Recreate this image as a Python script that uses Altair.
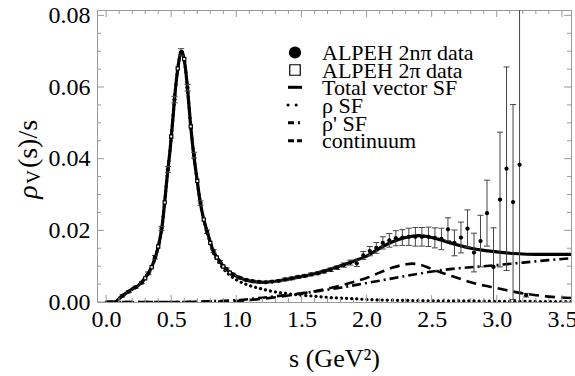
import altair as alt
import pandas as pd

FONT = "Liberation Serif"
GRAY = "#999999"
W, H = 474, 292

# ---------------- model curves ----------------
total_s = [0.0, 0.07, 0.1, 0.15, 0.2, 0.25, 0.3, 0.35, 0.38, 0.41, 0.43, 0.45, 0.47, 0.49, 0.51,
           0.53, 0.55, 0.565, 0.58, 0.595, 0.61, 0.625, 0.645, 0.67, 0.695, 0.72, 0.75, 0.78,
           0.82, 0.86, 0.9, 0.95, 1.0, 1.05, 1.1, 1.2, 1.3, 1.4, 1.5, 1.6, 1.7, 1.8, 1.9, 2.0,
           2.1, 2.2, 2.3, 2.4, 2.5, 2.6, 2.7, 2.8, 2.9, 3.0, 3.1, 3.2, 3.3, 3.4, 3.57]
total_v = [0.0, 0.0, 0.0010, 0.0024, 0.0036, 0.0047, 0.0068, 0.0098, 0.0127, 0.0170, 0.0212,
           0.0280, 0.0355, 0.0420, 0.0500, 0.0585, 0.0650, 0.0685, 0.0700, 0.0685, 0.0650,
           0.0596, 0.0510, 0.0420, 0.0350, 0.0285, 0.0230, 0.0192, 0.0145, 0.0120, 0.0100,
           0.0083, 0.0072, 0.0064, 0.0059, 0.0055, 0.0058, 0.0064, 0.0071, 0.0079, 0.0089,
           0.0101, 0.0114, 0.0128, 0.0150, 0.0168, 0.0180, 0.0185, 0.0180, 0.0170, 0.0159,
           0.0150, 0.0144, 0.0140, 0.0136, 0.0134, 0.0133, 0.0133, 0.0133]

rho_s = [0.0, 0.07, 0.1, 0.15, 0.2, 0.25, 0.3, 0.35, 0.38, 0.41, 0.43, 0.45, 0.47, 0.49, 0.51,
         0.53, 0.55, 0.565, 0.58, 0.595, 0.61, 0.625, 0.645, 0.67, 0.695, 0.72, 0.75, 0.78,
         0.82, 0.86, 0.9, 0.95, 1.0, 1.1, 1.2, 1.3, 1.4, 1.5, 1.6, 1.7, 1.8, 1.9, 2.0, 2.2,
         2.4, 2.6, 2.8, 3.0, 3.2, 3.4, 3.57]
rho_v = [0.0, 0.0, 0.0010, 0.0024, 0.0036, 0.0047, 0.0068, 0.0098, 0.0127, 0.0170, 0.0212,
         0.0280, 0.0355, 0.0420, 0.0500, 0.0585, 0.0650, 0.0685, 0.0700, 0.0685, 0.0650,
         0.0596, 0.0510, 0.0420, 0.0350, 0.0285, 0.0229, 0.0190, 0.0140, 0.0113, 0.0093,
         0.0075, 0.0062, 0.0046, 0.0036, 0.0028, 0.0023, 0.0019, 0.0016, 0.0013, 0.0011,
         0.0009, 0.0007, 0.0005, 0.0004, 0.0003, 0.0003, 0.0002, 0.0002, 0.0001, 0.0001]

rhop_s = [0.0, 0.6, 0.8, 1.0, 1.2, 1.4, 1.6, 1.8, 2.0, 2.2, 2.4, 2.6, 2.8, 3.0, 3.2, 3.4, 3.57]
rhop_v = [0.0, 0.0, 0.0002, 0.0005, 0.0012, 0.0020, 0.0029, 0.0040, 0.0053, 0.0066, 0.0079,
          0.0090, 0.0097, 0.0103, 0.0110, 0.0117, 0.0122]

cont_s = [0.0, 0.6, 0.8, 1.0, 1.2, 1.4, 1.6, 1.8, 1.9, 2.0, 2.1, 2.2, 2.3, 2.35, 2.4, 2.5, 2.6,
          2.7, 2.8, 2.9, 3.0, 3.1, 3.2, 3.3, 3.4, 3.57]
cont_v = [0.0, 0.0, 0.0001, 0.0003, 0.0009, 0.0018, 0.0030, 0.0046, 0.0056, 0.0067, 0.0082,
          0.0096, 0.0105, 0.0107, 0.0105, 0.0092, 0.0079, 0.0067, 0.0055, 0.0046, 0.0039,
          0.0031, 0.0024, 0.0019, 0.0015, 0.0011]

# ---------------- ALEPH 2nπ data ----------------
d_s = [0.125, 0.175, 0.225, 0.275, 0.325, 0.375, 0.425, 0.475, 0.525, 0.575,
       0.625, 0.675, 0.725, 0.775, 0.825, 0.875, 0.925, 0.975, 1.025, 1.075,
       1.125, 1.175, 1.225, 1.275, 1.325, 1.375, 1.425, 1.475, 1.525, 1.575,
       1.625, 1.675, 1.725, 1.775, 1.825, 1.875, 1.925, 1.975, 2.025, 2.075,
       2.125, 2.175, 2.225, 2.275, 2.325, 2.375, 2.425, 2.475, 2.525, 2.575,
       2.625, 2.675, 2.725, 2.775, 2.825, 2.875, 2.925, 2.975, 3.025, 3.075,
       3.125, 3.175, 3.225]
d_v = [0.0017, 0.0029, 0.0041, 0.0054, 0.0080, 0.0125, 0.0205, 0.0370, 0.0565, 0.0697,
       0.0598, 0.0410, 0.0276, 0.0196, 0.0142, 0.0113, 0.0092, 0.0077, 0.0068, 0.0062,
       0.0058, 0.0056, 0.0055, 0.0057, 0.0059, 0.0063, 0.0066, 0.0070, 0.0073, 0.0077,
       0.0080, 0.0085, 0.0090, 0.0096, 0.0103, 0.0110, 0.0108, 0.0130, 0.0142, 0.0151,
       0.0165, 0.0172, 0.0178, 0.0180, 0.0182, 0.0182, 0.0182, 0.0182, 0.0179, 0.0176,
       0.0203, 0.0165, 0.0180, 0.0205, 0.0138, 0.0170, 0.0248, 0.0098, 0.0286, 0.0372,
       0.0279, 0.0383, 0.0019]
d_err = [0.0003, 0.0003, 0.0003, 0.0003, 0.0004, 0.0005, 0.0006, 0.0008, 0.0009, 0.0010,
         0.0009, 0.0008, 0.0006, 0.0005, 0.0004, 0.0003, 0.0003, 0.0003, 0.0003, 0.0003,
         0.0003, 0.0003, 0.0003, 0.0003, 0.0003, 0.0004, 0.0004, 0.0004, 0.0004, 0.0004,
         0.0004, 0.0004, 0.0005, 0.0005, 0.0006, 0.0007, 0.0009, 0.0011, 0.0013, 0.0015,
         0.0017, 0.0019, 0.0021, 0.0022, 0.0024, 0.0026, 0.0026, 0.0027, 0.0028, 0.0030,
         0.0032, 0.0036, 0.0043, 0.0052, 0.0054, 0.0072, 0.0092, 0.0109, 0.0188, 0.0284,
         0.0272, 0.0500, 0.0005]

# ---------------- ALEPH 2π data ----------------
p_s = [0.30, 0.35, 0.40, 0.45, 0.50, 0.55, 0.60, 0.65, 0.70, 0.75, 0.80, 0.85, 0.90, 0.95]
p_v = [0.0066, 0.0097, 0.0155, 0.0278, 0.0462, 0.0652, 0.0678, 0.0490, 0.0338, 0.0230,
       0.0165, 0.0124, 0.0099, 0.0082]

# ---------------- axes ----------------
x_major = [0.0, 0.5, 1.0, 1.5, 2.0, 2.5, 3.0, 3.5]
x_minor = [0.1, 0.2, 0.3, 0.4, 0.6, 0.7, 0.8, 0.9, 1.1, 1.2, 1.3, 1.4, 1.6, 1.7, 1.8, 1.9,
           2.1, 2.2, 2.3, 2.4, 2.6, 2.7, 2.8, 2.9, 3.1, 3.2, 3.3, 3.4]
y_major = [0.0, 0.02, 0.04, 0.06, 0.08]
y_minor = [0.005, 0.01, 0.015, 0.025, 0.03, 0.035, 0.045, 0.05, 0.055, 0.065, 0.07, 0.075]

legend_labels = ["ALPEH 2nπ data", "ALPEH 2π data", "Total vector SF", "ρ SF", "ρ' SF",
                 "continuum"]

XT = "s (GeV²)"
xscale = alt.Scale(domain=[-0.07, 3.57], nice=False, zero=False)
yscale = alt.Scale(domain=[0.0, 0.0815], nice=False, zero=False)
xaxis = alt.Axis(values=x_major, format=".1f", ticks=False, tickSize=0, domain=False,
                 grid=False, labelFont=FONT, labelFontSize=24, labelColor="black",
                 labelPadding=5, labelFlush=False, labelOverlap=False, labelBound=False,
                 titleFont=FONT, titleFontSize=26, titleFontWeight="normal",
                 titleColor="black", titlePadding=14)
yaxis = alt.Axis(values=y_major, format=".2f", ticks=False, tickSize=0, domain=False,
                 grid=False, labelFont=FONT, labelFontSize=24, labelColor="black",
                 labelPadding=7, labelFlush=False, labelOverlap=False)


def xe(f="s"):
    return alt.X(f, type="quantitative", scale=xscale, axis=xaxis, title=XT)


def ye(f="v"):
    return alt.Y(f, type="quantitative", scale=yscale, axis=yaxis, title="")


def line(s, v, **mk):
    df = pd.DataFrame({"s": s, "v": v})
    return alt.Chart(df).mark_line(color="black", clip=True, interpolate="monotone",
                                   **mk).encode(x=xe(), y=ye())


df_d = pd.DataFrame({"s": d_s, "v": d_v, "err": d_err})
df_d["lo"] = df_d["v"] - df_d["err"]
df_d["hi"] = df_d["v"] + df_d["err"]
df_p = pd.DataFrame({"s": p_s, "v": p_v})

layers = []
# curves
layers.append(line(cont_s, cont_v, strokeWidth=2.6, strokeDash=[10, 6]))
layers.append(line(rhop_s, rhop_v, strokeWidth=2.6, strokeDash=[9, 4, 2, 4]))
layers.append(line(rho_s, rho_v, strokeWidth=3.2, strokeDash=[0.1, 5], strokeCap="round"))
layers.append(line(total_s, total_v, strokeWidth=3.2))

# error bars + data
ecol = "#444444"
layers.append(alt.Chart(df_d).mark_rule(color=ecol, strokeWidth=1, clip=True).encode(
    x=xe(), y=ye("lo"), y2=alt.Y2("hi")))
layers.append(alt.Chart(df_d).mark_rule(color=ecol, strokeWidth=1, clip=True, xOffset=-3,
                                        x2Offset=3).encode(x=xe(), x2=alt.X2("s"), y=ye("hi")))
layers.append(alt.Chart(df_d).mark_rule(color=ecol, strokeWidth=1, clip=True, xOffset=-3,
                                        x2Offset=3).encode(x=xe(), x2=alt.X2("s"), y=ye("lo")))
layers.append(alt.Chart(df_p).mark_point(shape="square", filled=True, fill="white",
                                         stroke="black", strokeWidth=1.2, size=10,
                                         opacity=1, clip=True).encode(x=xe(), y=ye()))
layers.append(alt.Chart(df_d).mark_circle(size=18, color="black", opacity=1,
                                          clip=True).encode(x=xe(), y=ye()))

# inward frame ticks
dxM = pd.DataFrame({"s": x_major})
dxm = pd.DataFrame({"s": x_minor})
dyM = pd.DataFrame({"v": y_major})
dym = pd.DataFrame({"v": y_minor})
for dfx, ln in ((dxM, 7), (dxm, 4)):
    layers.append(alt.Chart(dfx).mark_rule(color=GRAY, strokeWidth=1).encode(
        x=xe(), y=alt.value(H), y2=alt.value(H - ln)))
    layers.append(alt.Chart(dfx).mark_rule(color=GRAY, strokeWidth=1).encode(
        x=xe(), y=alt.value(0), y2=alt.value(ln)))
for dfy, ln in ((dyM, 7), (dym, 4)):
    layers.append(alt.Chart(dfy).mark_rule(color=GRAY, strokeWidth=1).encode(
        y=ye(), x=alt.value(0), x2=alt.value(ln)))
    layers.append(alt.Chart(dfy).mark_rule(color=GRAY, strokeWidth=1).encode(
        y=ye(), x=alt.value(W), x2=alt.value(W - ln)))

one = pd.DataFrame({"k": [0]})

# legend
lx_sym, lx_txt = 198, 225
baselines = [50, 67.5, 85, 103, 121, 138]
for lab, yb in zip(legend_labels, baselines):
    layers.append(alt.Chart(one).mark_text(text=lab, font=FONT, fontSize=22, align="left",
                                           baseline="alphabetic", color="black").encode(
        x=alt.value(lx_txt), y=alt.value(yb)))
layers.append(alt.Chart(one).mark_point(shape="circle", filled=True, color="black", size=150,
                                        opacity=1).encode(x=alt.value(lx_sym),
                                                          y=alt.value(42.5)))
layers.append(alt.Chart(one).mark_point(shape="square", filled=True, fill="white",
                                        stroke="black", strokeWidth=1.2, size=110,
                                        opacity=1).encode(x=alt.value(lx_sym),
                                                          y=alt.value(60)))
sample_styles = [
    (77.3, dict(strokeWidth=3)),
    (95, dict(strokeWidth=3, strokeDash=[0.1, 8], strokeCap="round")),
    (112.7, dict(strokeWidth=3, strokeDash=[6, 4, 2, 4])),
    (130.7, dict(strokeWidth=3, strokeDash=[6, 3])),
]
for yy, st in sample_styles:
    layers.append(alt.Chart(one).mark_rule(color="black", **st).encode(
        x=alt.value(lx_sym - 7), x2=alt.value(lx_sym + 7), y=alt.value(yy)))

# y-axis title  ρ_V(s)/s  (rotated, read bottom to top)
ytitle = [("(s)/s", 134, 28, "normal", -68), ("V", 167, 19, "normal", -63),
          ("ρ", 182, 28, "italic", -68)]
for ch, yy, fs, sty, xx in ytitle:
    layers.append(alt.Chart(one).mark_text(text=ch, font=FONT, fontSize=fs, fontStyle=sty,
                                           angle=270, align="center", baseline="middle",
                                           color="black").encode(
        x=alt.value(xx), y=alt.value(yy)))

chart = alt.layer(*layers).properties(
    width=W, height=H,
    padding={"left": 97, "top": 10, "right": 4, "bottom": 74},
    autosize=alt.AutoSizeParams(type="none"),
).configure_view(stroke=GRAY, strokeWidth=1)

chart.save("out.html", embed_options={"renderer": "svg", "actions": False})
